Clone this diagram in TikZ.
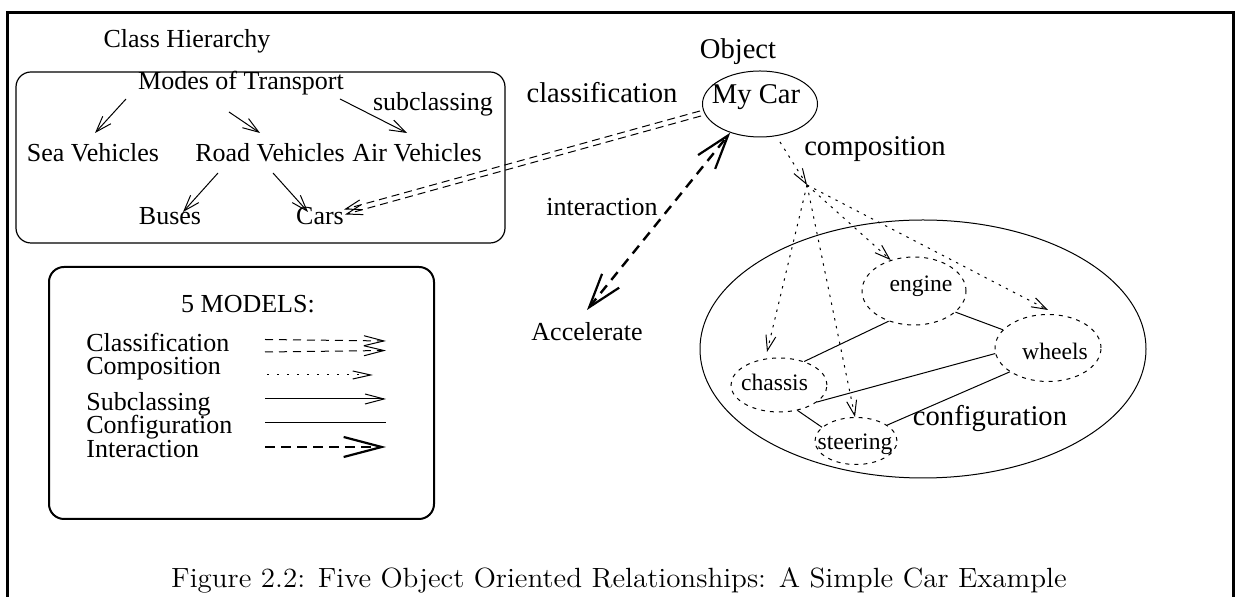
\documentclass[tikz,border=0pt]{standalone}
\usepackage{fontspec}
\newfontfamily\tms{Liberation Serif}
\usetikzlibrary{arrows.meta,shapes.geometric}
\begin{document}
\begin{tikzpicture}[x=0.5pt,y=-0.5pt,
  txt/.style={font=\tms\fontsize{13}{15}\selectfont, inner sep=0pt, anchor=base},
  bigtxt/.style={font=\tms\fontsize{14.3}{16}\selectfont, inner sep=0pt, anchor=base},
  smalltxt/.style={font=\tms\fontsize{11.8}{14}\selectfont, inner sep=0pt, anchor=base},
  legtxt/.style={font=\tms\fontsize{13}{15}\selectfont, inner sep=0pt, anchor=base west},
  ell/.style={draw, ellipse, inner sep=0pt, line width=0.5pt},
  partell/.style={ell, dash pattern=on 2pt off 2.5pt},
  subarrow/.style={line width=0.5pt, -{Straight Barb[length=8pt,width=5.5pt,line width=0.5pt]}},
  cfgline/.style={line width=0.5pt},
  cls/.style={line width=0.5pt, dash pattern=on 4pt off 2.5pt, -{Straight Barb[length=8pt,width=5pt,line width=0.5pt]}},
  comp/.style={line width=0.5pt, dash pattern=on 1.2pt off 2.8pt, -{Straight Barb[length=7.5pt,width=5pt,line width=0.5pt]}},
  inter/.style={line width=1.2pt, dash pattern=on 5pt off 3.5pt,
     {Straight Barb[length=17pt,width=11pt,line width=1.1pt]}-{Straight Barb[length=17pt,width=11pt,line width=1.1pt]}},
  legcls/.style={line width=0.5pt, dash pattern=on 4pt off 3pt, -{Straight Barb[length=10pt,width=5pt,line width=0.5pt]}},
  legcomp/.style={line width=0.5pt, dash pattern=on 1pt off 4pt, -{Straight Barb[length=9pt,width=4pt,line width=0.5pt]}},
  legsub/.style={line width=0.5pt, -{Straight Barb[length=9.5pt,width=5pt,line width=0.5pt]}},
  leginter/.style={line width=1.1pt, dash pattern=on 5pt off 3pt, -{Straight Barb[length=19pt,width=10pt,line width=1.1pt]}}
]
\useasboundingbox (0,0) rectangle (1239,597);
% frame
\draw[line width=1.5pt] (7,597) -- (7,13) -- (1233,13) -- (1233,597);

% class hierarchy
\node[txt] (classh) at (187,48) {Class Hierarchy};
\draw[line width=0.6pt, rounded corners=7.5pt] (16,72) rectangle (505,243);
\node[txt] (modes) at (241,90) {Modes of Transport};
\node[txt] (subl) at (433,111) {subclassing};
\node[txt] (sea) at (93,162) {Sea Vehicles};
\node[txt] (road) at (270,162) {Road Vehicles};
\node[txt] (air) at (417,162) {Air Vehicles};
\node[txt] (buses) at (170,225) {Buses};
\node[txt] (cars) at (320,225) {Cars};
\draw[subarrow] ([shift={(-115,9)}]modes.base) -- ([shift={(2,-29)}]sea.base);
\draw[subarrow] ([shift={(-12,22)}]modes.base) -- ([shift={(-10,-29)}]road.base);
\draw[subarrow] ([shift={(99,9)}]modes.base) -- ([shift={(-10,-29)}]air.base);
\draw[subarrow] ([shift={(-52,11)}]road.base) -- ([shift={(13,-13)}]buses.base);
\draw[subarrow] ([shift={(3,11)}]road.base) -- ([shift={(-12,-13)}]cars.base);

% object
\node[bigtxt] (object) at (738,59) {Object};
\node[ell, minimum width=57.5pt, minimum height=33pt] (mycar) at (760,104) {};
\node[bigtxt] (mycarlbl) at (756,104) {My Car};
\node[bigtxt] (classif) at (602,103) {classification};
\node[bigtxt] (compos) at (875,156) {composition};
\node[txt] (interlbl) at (602,216) {interaction};
\node[txt] (accel) at (587,341) {Accelerate};

% classification arrow (double dashed)
\draw[cls] ([shift={(-60,7)}]mycar.center) -- ([shift={(24,-15.5)}]cars.base);
\draw[cls] ([shift={(-59,12)}]mycar.center) -- ([shift={(25,-10.5)}]cars.base);

% interaction arrow
\draw[inter] ([shift={(0,-31)}]accel.base) -- (mycar.224);

% configuration
\node[ell, minimum width=223pt, minimum height=129pt] (config) at (923,349) {};
\node[bigtxt] (configlbl) at (990,426) {configuration};
\node[partell, minimum width=52pt, minimum height=34pt] (engineE) at (914,291) {};
\node[partell, minimum width=53pt, minimum height=33.5pt] (wheelsE) at (1048,348) {};
\node[partell, minimum width=48pt, minimum height=27pt] (chassisE) at (779,385) {};
\node[partell, minimum width=41pt, minimum height=23.5pt] (steeringE) at (856,441) {};
\node[smalltxt] (engine) at (921,292) {engine};
\node[smalltxt] (wheels) at (1055,360) {wheels};
\node[smalltxt] (chassis) at (774.5,391) {chassis};
\node[smalltxt] (steering) at (855,450) {steering};

\draw[cfgline] (engineE.230) -- (chassisE.43);
\draw[cfgline] (engineE.-27) -- (wheelsE.158);
\draw[cfgline] (wheelsE.186) -- (chassisE.-24);
\draw[cfgline] (wheelsE.212) -- (steeringE.27);
\draw[cfgline] (chassisE.-54) -- (steeringE.158);

% composition
\coordinate (hub) at (807,185);
\draw[comp] ([shift={(20,38)}]mycar.center) -- (hub);
\draw[comp] (hub) -- ([shift={(-12,-33)}]chassisE.center);
\draw[comp] (hub) -- ([shift={(-1,0)}]steeringE.north);
\draw[comp] (hub) -- (engineE.127);
\draw[comp] (hub) -- ([shift={(0,-4)}]wheelsE.north);

% legend
\draw[line width=1pt, rounded corners=7.5pt] (49,267) rectangle (434,519);
\node[txt] (models) at (248,313) {5 MODELS:};
\node[legtxt] (lcls) at (86,352) {Classification};
\node[legtxt] (lcomp) at (86,375) {Composition};
\node[legtxt] (lsub) at (86,411) {Subclassing};
\node[legtxt] (lcfg) at (86,434) {Configuration};
\node[legtxt] (lint) at (86,458) {Interaction};
\draw[legcls] (265,339.5) -- (386,341);
\draw[legcls] (265,352) -- (386,350.5);
\draw[legcomp] (267,375) -- (373,375);
\draw[legsub] (265,399) -- (386,399);
\draw[cfgline] (265,423) -- (386,423);
\draw[leginter] (265,447) -- (386,447);

% caption
\node[font=\rmfamily\fontsize{13.9}{16}\selectfont, inner sep=0pt, anchor=base] (cap) at (619,588)
  {\scalebox{1.045}[1]{Figure 2.2: Five Object Oriented Relationships: A Simple Car Example}};
\end{tikzpicture}
\end{document}
